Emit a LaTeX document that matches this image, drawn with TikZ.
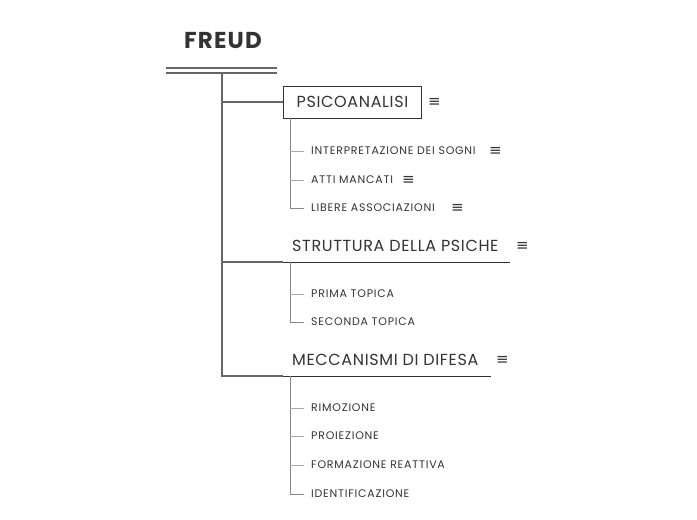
\documentclass[tikz,border=0pt]{standalone}
\usepackage{fontspec}
\setmainfont{Poppins}
\newfontfamily\symfont{DejaVu Sans}
\definecolor{inkdark}{HTML}{333333}
\definecolor{trunkgray}{HTML}{666666}
\definecolor{twiggray}{HTML}{888888}
\definecolor{stubgray}{HTML}{AAAAAA}
\begin{document}
\begin{tikzpicture}[x=1pt, y=-1pt,
    title/.style={font=\bfseries\fontsize{23}{23}\selectfont\addfontfeatures{LetterSpace=5}, text=inkdark},
    mainlabel/.style={anchor=west, inner sep=0pt, text depth=0pt, font=\fontsize{16}{16}\selectfont\addfontfeatures{LetterSpace=4}, text=inkdark},
    sublabel/.style={anchor=west, inner sep=0pt, text depth=0pt, font=\fontsize{11}{11}\selectfont\addfontfeatures{LetterSpace=7}, text=inkdark},
    noteicon/.style={anchor=west, inner sep=0pt, font=\symfont\fontsize{15}{15}\selectfont, text=inkdark},
    trunk/.style={draw=trunkgray, line width=2pt},
    twig/.style={draw=twiggray, line width=1pt},
    stub/.style={draw=stubgray, line width=1pt}]

    \useasboundingbox (0,0) rectangle (697,520);

    % Central topic
    \node[title] (freud) at (223,41) {FREUD};
    \draw[draw=trunkgray, line width=1.6pt] (166,68) -- (277,68);
    \draw[draw=trunkgray, line width=1.6pt] (166,73) -- (277,73);
    \coordinate (root) at (222,73);

    % Main topics
    \node[mainlabel, draw=inkdark, line width=1pt, inner xsep=11pt,
          minimum height=32pt, minimum width=138pt, anchor=west] (psico) at (283,102) {PSICOANALISI};
    \node[noteicon] at (428,102) {≡};

    \node[mainlabel] (strutt) at (292,246) {STRUTTURA DELLA PSICHE};
    \node[noteicon] at (516,246) {≡};
    \draw[draw=inkdark, line width=1pt] (283,262) -- (510,262);

    \node[mainlabel] (mecc) at (292,360) {MECCANISMI DI DIFESA};
    \node[noteicon] at (496,360) {≡};
    \draw[draw=inkdark, line width=1pt] (283,376) -- (491,376);

    % Trunk
    \coordinate (b1) at (222,102);
    \coordinate (b2) at (222,262);
    \coordinate (b3) at (222,376);
    \draw[trunk] (root) -- (b3) -- (283,376);
    \draw[trunk] (b1) -- (psico.west);
    \draw[trunk] (b2) -- (283,262);

    % Subtopics of Psicoanalisi
    \node[sublabel] (inter) at (311,151) {INTERPRETAZIONE DEI SOGNI};
    \node[noteicon] at (489,151) {≡};
    \node[sublabel] (atti) at (311,180) {ATTI MANCATI};
    \node[noteicon] at (402,180) {≡};
    \node[sublabel] (libere) at (311,208) {LIBERE ASSOCIAZIONI};
    \node[noteicon] at (451,208) {≡};
    \draw[twig] (290,118) -- (290,208) -- (304,208);
    \draw[stub] (290,151) -- (304,151);
    \draw[stub] (290,180) -- (304,180);

    % Subtopics of Struttura della psiche
    \node[sublabel] (prima) at (311,294) {PRIMA TOPICA};
    \node[sublabel] (seconda) at (311,322) {SECONDA TOPICA};
    \draw[twig] (290,262) -- (290,322) -- (304,322);
    \draw[stub] (290,294) -- (304,294);

    % Subtopics of Meccanismi di difesa
    \node[sublabel] (rimoz) at (311,408) {RIMOZIONE};
    \node[sublabel] (proiez) at (311,436) {PROIEZIONE};
    \node[sublabel] (formaz) at (311,465) {FORMAZIONE REATTIVA};
    \node[sublabel] (ident) at (311,494) {IDENTIFICAZIONE};
    \draw[twig] (290,376) -- (290,494) -- (304,494);
    \draw[stub] (290,408) -- (304,408);
    \draw[stub] (290,436) -- (304,436);
    \draw[stub] (290,465) -- (304,465);

\end{tikzpicture}
\end{document}
